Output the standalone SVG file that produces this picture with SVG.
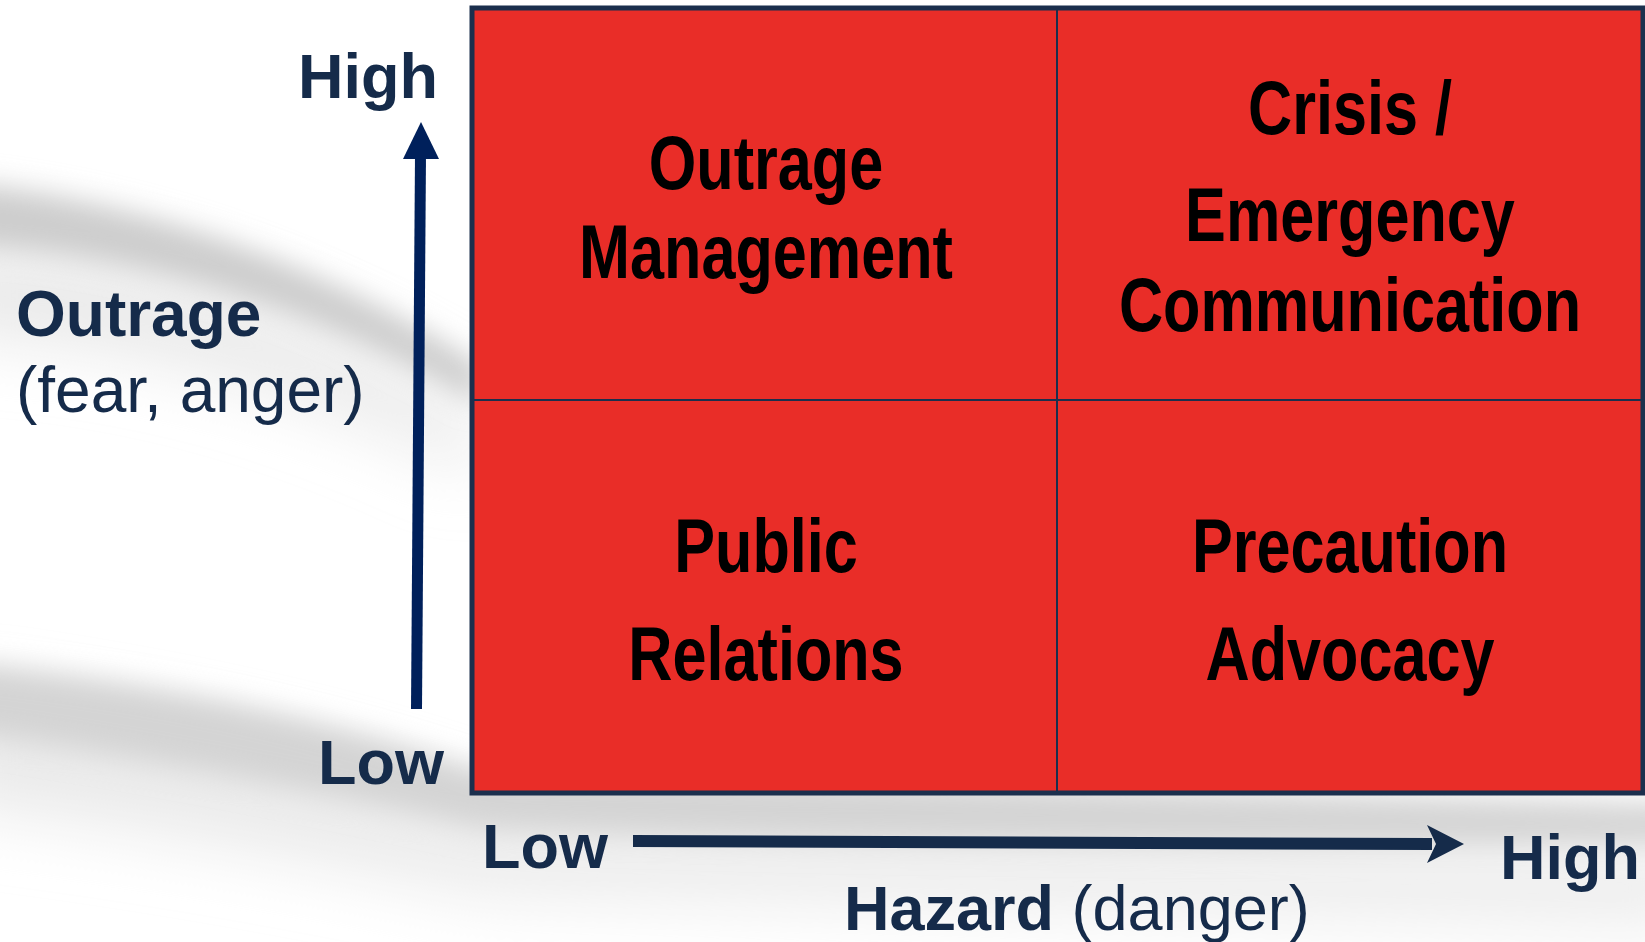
<svg xmlns="http://www.w3.org/2000/svg" width="1645" height="942" viewBox="0 0 1645 942">
<style>
.axis{font-family:"Liberation Sans",Arial,sans-serif;fill:#152B4A;font-size:63px}
.axis2{font-size:64px}
.b{font-weight:bold}
.q{font-family:"Liberation Sans",Arial,sans-serif;font-weight:bold;font-size:76px;fill:#000;text-anchor:middle}
.cell{fill:#E92D28;stroke:#1B2F4D;stroke-width:2}
</style>
<defs>
<filter id="blurA" x="-20%" y="-50%" width="140%" height="200%"><feGaussianBlur stdDeviation="14"/></filter>
<filter id="blurB" x="-20%" y="-50%" width="140%" height="200%"><feGaussianBlur stdDeviation="35"/></filter>
</defs>
<rect width="1645" height="942" fill="#ffffff"/>
<g id="background">
<path d="M-60,250 Q220,260 480,420 L480,470 Q220,340 -60,330 Z" fill="#e6e6e6" filter="url(#blurB)"/>
<path d="M-60,180 Q230,205 480,365 L480,405 Q220,255 -60,245 Z" fill="#cdcdcd" filter="url(#blurA)"/>
<path d="M-60,700 Q250,740 480,820 L1700,860 L1700,920 Q900,900 480,890 Q200,830 -60,800 Z" fill="#e8e8e8" filter="url(#blurB)"/>
<path d="M-60,660 Q250,690 480,770 L1700,805 L1700,845 Q900,850 480,830 Q220,770 -60,730 Z" fill="#d4d4d4" filter="url(#blurA)"/>
</g>
<g id="grid">
<rect class="cell" x="472" y="8" width="585" height="392"/>
<rect class="cell" x="1057" y="8" width="586" height="392"/>
<rect class="cell" x="472" y="400" width="585" height="393"/>
<rect class="cell" x="1057" y="400" width="586" height="393"/>
<rect x="472" y="8" width="1171" height="785" fill="none" stroke="#1B2F4D" stroke-width="5"/>
</g>
<g id="q-outrage-management">
<g transform="translate(766,189) scale(0.805,1)"><text class="q" x="0" y="0">Outrage</text></g>
<g transform="translate(766,278) scale(0.805,1)"><text class="q" x="0" y="0">Management</text></g>
</g>
<g id="q-crisis">
<g transform="translate(1350,134) scale(0.805,1)"><text class="q" x="0" y="0">Crisis /</text></g>
<g transform="translate(1350,241) scale(0.805,1)"><text class="q" x="0" y="0">Emergency</text></g>
<g transform="translate(1350,331) scale(0.805,1)"><text class="q" x="0" y="0">Communication</text></g>
</g>
<g id="q-public-relations">
<g transform="translate(766,572) scale(0.805,1)"><text class="q" x="0" y="0">Public</text></g>
<g transform="translate(766,680) scale(0.805,1)"><text class="q" x="0" y="0">Relations</text></g>
</g>
<g id="q-precaution-advocacy">
<g transform="translate(1350,572) scale(0.805,1)"><text class="q" x="0" y="0">Precaution</text></g>
<g transform="translate(1350,680) scale(0.805,1)"><text class="q" x="0" y="0">Advocacy</text></g>
</g>
<g id="connectors">
<path d="M416.5,709 L420.5,155" stroke="#00205B" stroke-width="11" fill="none"/>
<path d="M421,122 L439,159 L403,159 Z" fill="#00205B"/>
<path d="M633,841 L1432,844" stroke="#152B4A" stroke-width="12" fill="none"/>
<path d="M1464,844 L1427,825 L1436,844 L1427,863 Z" fill="#152B4A"/>
</g>
<g id="labels">
<text class="axis b" x="298" y="98">High</text>
<text class="axis axis2 b" x="16" y="336">Outrage</text>
<text class="axis axis2" x="16" y="412">(fear, anger)</text>
<text class="axis b" x="318" y="784">Low</text>
<text class="axis b" x="482" y="868">Low</text>
<text class="axis b" x="1500" y="879">High</text>
<text class="axis" x="844" y="930"><tspan class="b">Hazard</tspan> (danger)</text>
</g>
</svg>
